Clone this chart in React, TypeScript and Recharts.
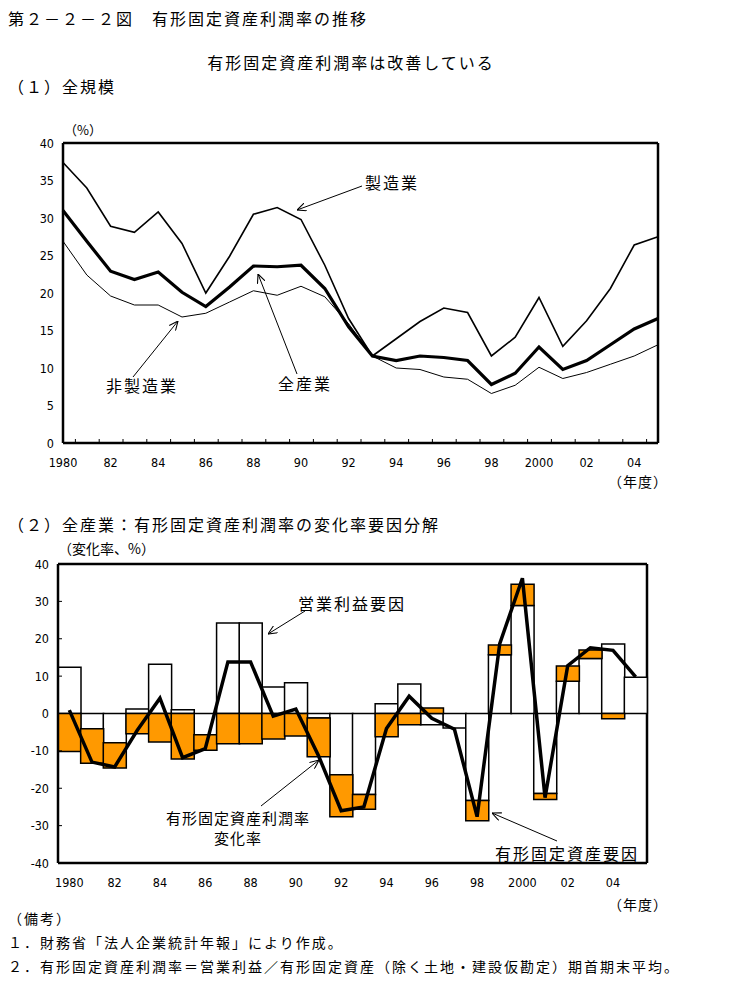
import React from 'react';
import { LineChart, Line, XAxis, YAxis, ComposedChart, Bar, ReferenceLine, CartesianGrid } from 'recharts';

// fiscal years 1980-2005
const years = [
  '1980', '1981', '1982', '1983', '1984', '1985', '1986', '1987', '1988', '1989',
  '1990', '1991', '1992', '1993', '1994', '1995', '1996', '1997', '1998', '1999',
  '2000', '2001', '2002', '2003', '2004', '2005',
];

// (1) 有形固定資産利潤率 (%)
const manufacturing = [
  37.4, 34.0, 28.9, 28.1, 30.8, 26.6, 20.0, 24.9, 30.5, 31.4,
  29.8, 23.7, 16.6, 11.6, 13.9, 16.2, 18.0, 17.4, 11.6, 14.1,
  19.4, 12.9, 16.3, 20.6, 26.4, 27.5,
];
const allIndustry = [
  31.0, 26.9, 22.9, 21.8, 22.8, 20.1, 18.2, 20.8, 23.6, 23.5,
  23.7, 20.6, 15.5, 11.6, 11.0, 11.6, 11.4, 11.0, 7.8, 9.3,
  12.8, 9.8, 11.0, 13.1, 15.2, 16.6,
];
const nonManufacturing = [
  26.9, 22.4, 19.6, 18.4, 18.4, 16.8, 17.3, 18.8, 20.3, 19.7,
  20.9, 19.5, 15.9, 11.6, 10.0, 9.8, 8.8, 8.5, 6.6, 7.7,
  10.1, 8.6, 9.4, 10.5, 11.6, 13.1,
];

// (2) 変化率要因分解 (%)
const profitFactor = [
  12.4, -4.1, -7.8, 1.2, 13.2, 1.0, -5.7, 24.2, 24.2, 7.1,
  8.2, -1.2, -16.4, -21.7, 2.6, 7.9, -3.0, -3.9, -23.3, 15.7,
  28.9, -21.4, 8.6, 14.7, 18.6, 9.7,
];
const assetFactor = [
  -10.2, -9.2, -6.8, -5.4, -7.6, -12.2, -4.1, -8.1, -8.1, -6.8,
  -6.0, -10.4, -11.2, -3.9, -6.2, -3.0, 1.5, 0, -5.4, 2.6,
  5.7, -1.6, 4.1, 2.3, -1.4, 0,
];
const rateChange = [
  0.9, -13.0, -14.3, -4.5, 4.1, -11.8, -9.4, 13.8, 13.8, -0.7,
  1.2, -11.3, -26.0, -25.0, -4.0, 4.6, -1.3, -4.2, -27.6, 18.7,
  36.2, -22.5, 12.8, 17.6, 16.9, 9.8,
];

const ticks1 = [0, 5, 10, 15, 20, 25, 30, 35, 40];
const ticks2 = [-40, -30, -20, -10, 0, 10, 20, 30, 40];

const data1 = years.map((year, i) => ({
  year,
  manufacturing: manufacturing[i],
  allIndustry: allIndustry[i],
  nonManufacturing: nonManufacturing[i],
}));
const data2 = years.map((year, i) => ({
  year,
  profitFactor: profitFactor[i],
  assetFactor: assetFactor[i],
  rateChange: rateChange[i],
}));

const JP = '"Noto Sans CJK JP", sans-serif';
const NUM = '"DejaVu Sans Condensed", "Liberation Sans Narrow", sans-serif';
const FRAME = { stroke: '#000', strokeWidth: 2.5 };

const yearLabel = (y: string) => (y === '1980' || y === '2000' ? y : y.slice(2));

// top and right edges of the plot box
const topEdge = ({ offset }: any) => [offset.top];
const rightEdge = ({ offset }: any) => [offset.left + offset.width];

const YearTick = (props: any) => {
  const { x, y, payload, index, marks } = props;
  const half = payload.offset || 11.4;
  const show = Number(payload.value) % 2 === 0;
  return (
    <g>
      {marks && index > 0 && (
        <line x1={x - half} x2={x - half} y1={y} y2={y - 4} stroke="#000" strokeWidth={1} />
      )}
      {show && (
        <text x={x} y={y + 24} textAnchor="middle" fontSize={12.5} fontFamily={NUM} fill="#000">
          {yearLabel(String(payload.value))}
        </text>
      )}
    </g>
  );
};

const ValueTick = (props: any) => {
  const { x, y, payload, marks } = props;
  return (
    <g>
      {marks && <line x1={x} x2={x + 4} y1={y} y2={y} stroke="#000" strokeWidth={1} />}
      <text x={x - 9} y={y + 4.5} textAnchor="end" fontSize={12.5} fontFamily={NUM} fill="#000">
        {payload.value}
      </text>
    </g>
  );
};

const T = ({ x, y, s = 16, ls = 2, anchor = 'start', children }: any) => (
  <text x={x} y={y} fontSize={s} letterSpacing={ls} textAnchor={anchor} dominantBaseline="central" fontFamily={JP} fill="#000">
    {children}
  </text>
);

const Arrow = ({ x1, y1, x2, y2 }: any) => (
  <line x1={x1} y1={y1} x2={x2} y2={y2} stroke="#000" strokeWidth={1} markerEnd="url(#arr)" />
);

export default function App() {
  return (
    <div style={{ position: 'absolute', left: 0, top: 0, width: 734, height: 1004, background: '#fff' }}>
      <div style={{ position: 'absolute', left: 0, top: 0 }}>
        <LineChart width={734} height={500} data={data1} margin={{ top: 143, right: 76, bottom: 27, left: 33 }}>
          <CartesianGrid
            stroke="#000"
            strokeWidth={2.5}
            horizontalCoordinatesGenerator={topEdge}
            verticalCoordinatesGenerator={rightEdge}
          />
          <XAxis
            dataKey="year"
            interval={0}
            tickSize={0}
            tickMargin={0}
            tickLine={false}
            axisLine={FRAME}
            tick={<YearTick marks />}
          />
          <YAxis
            domain={[0, 40]}
            ticks={ticks1}
            width={30}
            tickSize={0}
            tickMargin={0}
            tickLine={false}
            axisLine={FRAME}
            tick={<ValueTick />}
          />
          <Line dataKey="nonManufacturing" stroke="#000" strokeWidth={1} dot={false} isAnimationActive={false} />
          <Line dataKey="manufacturing" stroke="#000" strokeWidth={1.6} dot={false} isAnimationActive={false} />
          <Line dataKey="allIndustry" stroke="#000" strokeWidth={3.2} dot={false} isAnimationActive={false} />
        </LineChart>
      </div>

      <div style={{ position: 'absolute', left: 0, top: 500 }}>
        <ComposedChart
          width={734}
          height={430}
          data={data2}
          stackOffset="sign"
          barCategoryGap={0}
          barGap={0}
          margin={{ top: 64, right: 87, bottom: 37, left: 28 }}
        >
          <CartesianGrid
            stroke="#000"
            strokeWidth={2.5}
            horizontalCoordinatesGenerator={topEdge}
            verticalCoordinatesGenerator={rightEdge}
          />
          <XAxis
            dataKey="year"
            interval={0}
            tickSize={0}
            tickMargin={0}
            tickLine={false}
            axisLine={FRAME}
            tick={<YearTick />}
          />
          <YAxis
            domain={[-40, 40]}
            ticks={ticks2}
            width={30}
            tickSize={0}
            tickMargin={0}
            tickLine={false}
            axisLine={FRAME}
            tick={<ValueTick marks />}
          />
          <Bar dataKey="profitFactor" stackId="f" fill="#fff" stroke="#000" strokeWidth={1.5} isAnimationActive={false} />
          <Bar dataKey="assetFactor" stackId="f" fill="#FF9900" stroke="#000" strokeWidth={1.5} isAnimationActive={false} />
          <ReferenceLine y={0} stroke="#000" strokeWidth={1} />
          <Line dataKey="rateChange" stroke="#000" strokeWidth={3.5} dot={false} isAnimationActive={false} />
        </ComposedChart>
      </div>

      <svg width={734} height={1004} style={{ position: 'absolute', left: 0, top: 0, pointerEvents: 'none' }}>
        <defs>
          <marker id="arr" viewBox="0 0 10 10" refX="10" refY="5" markerWidth="9" markerHeight="9" markerUnits="userSpaceOnUse" orient="auto">
            <path d="M0,0.5 L10,5 L0,9.5" fill="none" stroke="#000" strokeWidth={1.2} />
          </marker>
        </defs>

        <T x={8} y={18}>第２－２－２図　有形固定資産利潤率の推移</T>
        <T x={351} y={62} anchor="middle">有形固定資産利潤率は改善している</T>
        <T x={8} y={86}>（１）全規模</T>
        <T x={64} y={129} s={13} ls={0}>（%）</T>
        <T x={668} y={481} s={14} ls={1} anchor="end">（年度）</T>

        <T x={365} y={182}>製造業</T>
        <Arrow x1={362} y1={186} x2={297} y2={210} />
        <T x={106} y={385}>非製造業</T>
        <Arrow x1={133} y1={377} x2={178} y2={321} />
        <T x={278} y={383}>全産業</T>
        <Arrow x1={297} y1={374} x2={258} y2={274} />

        <T x={8} y={524}>（２）全産業：有形固定資産利潤率の変化率要因分解</T>
        <T x={58} y={548} s={14} ls={0}>（変化率、%）</T>
        <T x={668} y={904} s={14} ls={1} anchor="end">（年度）</T>

        <T x={298} y={603}>営業利益要因</T>
        <Arrow x1={305} y1={611} x2={268} y2={634} />
        <T x={238} y={817} s={15} anchor="middle" ls={1}>有形固定資産利潤率</T>
        <T x={238} y={837} s={15} anchor="middle" ls={1}>変化率</T>
        <Arrow x1={261} y1={806} x2={319} y2={760} />
        <T x={495} y={853}>有形固定資産要因</T>
        <Arrow x1={557} y1={841} x2={492} y2={813} />

        <T x={8} y={918} s={14} ls={2}>（備考）</T>
        <T x={8} y={942} s={14} ls={2}>１．財務省「法人企業統計年報」により作成。</T>
        <T x={8} y={966} s={14} ls={2}>２．有形固定資産利潤率＝営業利益／有形固定資産（除く土地・建設仮勘定）期首期末平均。</T>
      </svg>
    </div>
  );
}
